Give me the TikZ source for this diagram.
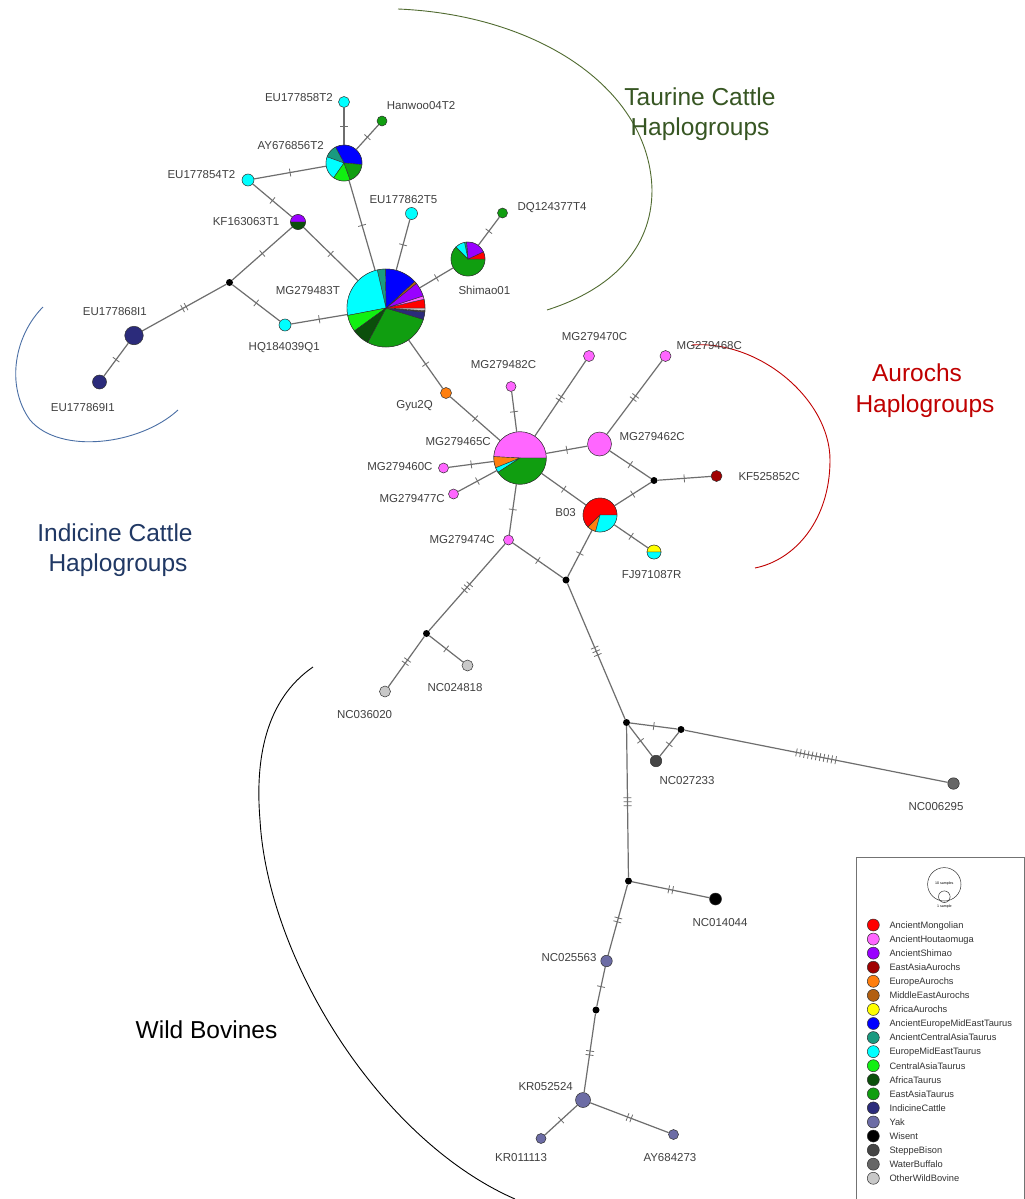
\documentclass[tikz,border=0pt]{standalone}
\usepackage{fontspec}
\setmainfont{Liberation Sans}
\usetikzlibrary{decorations.markings}
\definecolor{cMon}{HTML}{FF0000}
\definecolor{cHou}{HTML}{FF66FF}
\definecolor{cShi}{HTML}{9900FF}
\definecolor{cEAA}{HTML}{A00000}
\definecolor{cEuA}{HTML}{FF7F0F}
\definecolor{cMEA}{HTML}{B25F10}
\definecolor{cAfA}{HTML}{FFFF00}
\definecolor{cAEM}{HTML}{0000FF}
\definecolor{cACA}{HTML}{1A9A80}
\definecolor{cEMT}{HTML}{00FFFF}
\definecolor{cCAT}{HTML}{11F011}
\definecolor{cAfT}{HTML}{0B4F0B}
\definecolor{cEAT}{HTML}{109E10}
\definecolor{cInd}{HTML}{2B2B7B}
\definecolor{cYak}{HTML}{6C6CA5}
\definecolor{cWis}{HTML}{000000}
\definecolor{cSte}{HTML}{454545}
\definecolor{cBuf}{HTML}{666666}
\definecolor{cOWB}{HTML}{C8C8C8}
\definecolor{edgecol}{HTML}{6E6E6E}
\definecolor{outl}{HTML}{303030}
\definecolor{labcol}{HTML}{404040}
\definecolor{taurcol}{HTML}{375623}
\definecolor{aurcol}{HTML}{C00000}
\definecolor{indcol}{HTML}{203864}
\definecolor{indarc}{HTML}{4A6FA5}
\definecolor{taurarc}{HTML}{506B30}
\newcommand{\pwedge}[5]{\fill[#5,draw=outl,line width=0.4pt] (#1) -- ++(#3:#2) arc[start angle=#3,end angle=#4,radius=#2] -- cycle;}
\tikzset{
  hap/.style={circle,draw=outl,line width=0.5pt,inner sep=0pt,minimum size=#1},
  med/.style={circle,fill=black,inner sep=0pt,minimum size=7pt},
  edge/.style={draw=edgecol,line width=1.2pt},
  hk/.style={postaction={decorate,decoration={markings,
     mark=at position 0.5 with {
       \foreach \k in {1,...,#1}{
         \draw[edgecol,line width=0.8pt] ({(\k-(#1+1)/2)*4pt},-4pt) -- ({(\k-(#1+1)/2)*4pt},4pt);
       }}}}},
  lab/.style={font=\fontsize{11.5}{13}\selectfont,text=labcol,inner sep=0pt},
  big/.style={font=\fontsize{24.5}{30}\selectfont,inner sep=0pt,anchor=base},
  legdot/.style={circle,draw=outl,line width=0.5pt,inner sep=0pt,minimum size=12pt},
  legtxt/.style={font=\fontsize{9.3}{11}\selectfont,text=black!80,inner sep=0pt,anchor=base west},
}
\begin{document}
\begin{tikzpicture}[x=1pt,y=-1pt]
\useasboundingbox[fill=white] (0,0) rectangle (1025,1199);
% ---------- group arcs ----------
\draw[taurarc,line width=0.9pt] (398,9) .. controls (540,15) and (650,90) .. (652,190) .. controls (652,250) and (610,290) .. (547,310);
\draw[aurcol,line width=0.9pt] (692,345) .. controls (760,340) and (830,400) .. (830,460) .. controls (830,520) and (795,560) .. (755,568);
\draw[indarc,line width=0.9pt] (43,307) .. controls (15,335) and (5,385) .. (30,420) .. controls (60,455) and (140,445) .. (178,410);
\draw[black,line width=0.9pt] (313,667) .. controls (265,700) and (255,760) .. (260,820) .. controls (268,960) and (380,1140) .. (515,1199);
% ---------- nodes ----------
\node[hap=11pt,fill=cEMT] (n1) at (344,102) {};
\node[hap=10pt,fill=cEAT] (n2) at (382,121) {};
\node[hap=36pt] (n3) at (344,163) {};
\node[hap=12pt,fill=cEMT] (n4) at (248,180) {};
\node[hap=15pt] (n5) at (298,222) {};
\node[hap=12pt,fill=cEMT] (n6) at (411.5,213.5) {};
\node[hap=10pt,fill=cEAT] (n7) at (502.5,213) {};
\node[hap=34pt] (n8) at (468,259) {};
\node[hap=78pt] (n9) at (386,308) {};
\node[med] (m1) at (229.5,282.5) {};
\node[hap=12pt,fill=cEMT] (n10) at (285,325) {};
\node[hap=18.5pt,fill=cInd] (n11) at (134,335.5) {};
\node[hap=14pt,fill=cInd] (n12) at (99.5,382) {};
\node[hap=11pt,fill=cEuA] (n13) at (446,393) {};
\node[hap=52.5pt] (n14) at (520,458) {};
\node[hap=10pt,fill=cHou] (n15) at (511,386.5) {};
\node[hap=11pt,fill=cHou] (n16) at (589,356) {};
\node[hap=11pt,fill=cHou] (n17) at (665.5,356) {};
\node[hap=24pt,fill=cHou] (n18) at (599.5,444) {};
\node[hap=10pt,fill=cHou] (n19) at (443.5,468) {};
\node[hap=10pt,fill=cHou] (n20) at (453.5,494) {};
\node[med] (m2) at (654,480.5) {};
\node[hap=11pt,fill=cEAA] (n21) at (716.5,476) {};
\node[hap=34pt] (n22) at (600,515) {};
\node[hap=14pt] (n23) at (654,552) {};
\node[hap=10pt,fill=cHou] (n24) at (508.5,540) {};
\node[med] (m3) at (566,580) {};
\node[med] (m4) at (426.5,633.5) {};
\node[hap=11pt,fill=cOWB] (n25) at (385,691.5) {};
\node[hap=11pt,fill=cOWB] (n26) at (467.5,665.5) {};
\node[med] (m5) at (626.5,722.5) {};
\node[med] (m6) at (681,729.5) {};
\node[hap=11.5pt,fill=cSte] (n27) at (656,761) {};
\node[hap=11.5pt,fill=cBuf] (n28) at (953.5,783.5) {};
\node[med] (m7) at (628.5,881) {};
\node[hap=12pt,fill=cWis] (n29) at (715.5,899) {};
\node[hap=11.5pt,fill=cYak] (n30) at (606.5,961) {};
\node[med] (m8) at (596,1010) {};
\node[hap=15pt,fill=cYak] (n31) at (583,1100) {};
\node[hap=10pt,fill=cYak] (n32) at (541,1138.5) {};
\node[hap=10pt,fill=cYak] (n33) at (673.5,1134.5) {};
% ---------- edges ----------
\draw[edge,hk=1] (n1) -- (n3);
\draw[edge,hk=1] (n2) -- (n3);
\draw[edge,hk=1] (n4) -- (n3);
\draw[edge,hk=1] (n3) -- (n9);
\draw[edge,hk=1] (n4) -- (n5);
\draw[edge,hk=1] (n5) -- (n9);
\draw[edge,hk=1] (n5) -- (m1);
\draw[edge,hk=1] (m1) -- (n10);
\draw[edge,hk=1] (n10) -- (n9);
\draw[edge,hk=2] (m1) -- (n11);
\draw[edge,hk=1] (n11) -- (n12);
\draw[edge,hk=1] (n6) -- (n9);
\draw[edge,hk=1] (n9) -- (n8);
\draw[edge,hk=1] (n8) -- (n7);
\draw[edge,hk=1] (n9) -- (n13);
\draw[edge,hk=1] (n13) -- (n14);
\draw[edge,hk=1] (n14) -- (n15);
\draw[edge,hk=2] (n14) -- (n16);
\draw[edge,hk=1] (n14) -- (n18);
\draw[edge,hk=2] (n18) -- (n17);
\draw[edge,hk=1] (n18) -- (m2);
\draw[edge,hk=1] (m2) -- (n21);
\draw[edge,hk=1] (m2) -- (n22);
\draw[edge,hk=1] (n14) -- (n22);
\draw[edge,hk=1] (n14) -- (n19);
\draw[edge,hk=1] (n14) -- (n20);
\draw[edge,hk=1] (n14) -- (n24);
\draw[edge,hk=1] (n22) -- (n23);
\draw[edge,hk=1] (n22) -- (m3);
\draw[edge,hk=1] (n24) -- (m3);
\draw[edge,hk=3] (n24) -- (m4);
\draw[edge,hk=2] (m4) -- (n25);
\draw[edge,hk=1] (m4) -- (n26);
\draw[edge,hk=3] (m3) -- (m5);
\draw[edge,hk=1] (m5) -- (m6);
\draw[edge,hk=1] (m5) -- (n27);
\draw[edge,hk=1] (m6) -- (n27);
\draw[edge,hk=11] (m6) -- (n28);
\draw[edge,hk=3] (m5) -- (m7);
\draw[edge,hk=2] (m7) -- (n29);
\draw[edge,hk=2] (m7) -- (n30);
\draw[edge,hk=1] (n30) -- (m8);
\draw[edge,hk=2] (m8) -- (n31);
\draw[edge,hk=1] (n31) -- (n32);
\draw[edge,hk=2] (n31) -- (n33);
% ---------- pie wedges ----------
% AY676856T2
\pwedge{n3.center}{18pt}{-5}{118}{cAEM}
\pwedge{n3.center}{18pt}{118}{160}{cACA}
\pwedge{n3.center}{18pt}{160}{235}{cEMT}
\pwedge{n3.center}{18pt}{235}{290}{cCAT}
\pwedge{n3.center}{18pt}{290}{355}{cEAT}
% KF163063T1
\pwedge{n5.center}{7.5pt}{0}{180}{cShi}
\pwedge{n5.center}{7.5pt}{180}{360}{cAfT}
% Shimao01
\pwedge{n8.center}{17pt}{135}{360}{cEAT}
\pwedge{n8.center}{17pt}{0}{25}{cMon}
\pwedge{n8.center}{17pt}{25}{95}{cShi}
\pwedge{n8.center}{17pt}{95}{102}{cACA}
\pwedge{n8.center}{17pt}{102}{135}{cEMT}
% MG279483T
\pwedge{n9.center}{39pt}{242}{343}{cEAT}
\pwedge{n9.center}{39pt}{343}{354}{cInd}
\pwedge{n9.center}{39pt}{354}{356}{cSte}
\pwedge{n9.center}{39pt}{356}{360}{cOWB}
\pwedge{n9.center}{39pt}{0}{13}{cMon}
\pwedge{n9.center}{39pt}{13}{18}{cHou}
\pwedge{n9.center}{39pt}{18}{39}{cShi}
\pwedge{n9.center}{39pt}{39}{43}{cMEA}
\pwedge{n9.center}{39pt}{43}{91}{cAEM}
\pwedge{n9.center}{39pt}{91}{103}{cACA}
\pwedge{n9.center}{39pt}{103}{191}{cEMT}
\pwedge{n9.center}{39pt}{191}{216}{cCAT}
\pwedge{n9.center}{39pt}{216}{242}{cAfT}
% MG279465C
\pwedge{n14.center}{26.25pt}{0}{177}{cHou}
\pwedge{n14.center}{26.25pt}{177}{202}{cEuA}
\pwedge{n14.center}{26.25pt}{202}{213}{cEMT}
\pwedge{n14.center}{26.25pt}{213}{360}{cEAT}
% B03
\pwedge{n22.center}{17pt}{0}{225}{cMon}
\pwedge{n22.center}{17pt}{225}{255}{cEuA}
\pwedge{n22.center}{17pt}{255}{360}{cEMT}
% FJ971087R
\pwedge{n23.center}{7pt}{0}{180}{cAfA}
\pwedge{n23.center}{7pt}{180}{360}{cEMT}
% ---------- labels ----------
\node[lab,anchor=base east] (l1) at (333,101.4) {EU177858T2};
\node[lab,anchor=base west] (l2) at (386.7,109.8) {Hanwoo04T2};
\node[lab,anchor=base east] (l3) at (324,149.8) {AY676856T2};
\node[lab,anchor=base east] (l4) at (235.5,178.1) {EU177854T2};
\node[lab,anchor=base east] (l5) at (279.5,225.8) {KF163063T1};
\node[lab,anchor=base west] (l6) at (369.3,203.1) {EU177862T5};
\node[lab,anchor=base west] (l7) at (517.3,210.1) {DQ124377T4};
\node[lab,anchor=base west] (l8) at (458.3,294.1) {Shimao01};
\node[lab,anchor=base east] (l9) at (340,294.8) {MG279483T};
\node[lab,anchor=base west] (l10) at (248.5,350.6) {HQ184039Q1};
\node[lab,anchor=base west] (l11) at (82.7,315.1) {EU177868I1};
\node[lab,anchor=base east] (l12) at (115,411.1) {EU177869I1};
\node[lab,anchor=base east] (l13) at (433,408.1) {Gyu2Q};
\node[lab,anchor=base east] (l14) at (491,445.1) {MG279465C};
\node[lab,anchor=base west] (l15) at (470.7,368.4) {MG279482C};
\node[lab,anchor=base west] (l16) at (561.7,340.1) {MG279470C};
\node[lab,anchor=base west] (l17) at (676.5,349.1) {MG279468C};
\node[lab,anchor=base west] (l18) at (619.3,440.8) {MG279462C};
\node[lab,anchor=base east] (l19) at (432.7,470.8) {MG279460C};
\node[lab,anchor=base east] (l20) at (445,502.1) {MG279477C};
\node[lab,anchor=base west] (l21) at (738.3,480.1) {KF525852C};
\node[lab,anchor=base east] (l22) at (576,516.8) {B03};
\node[lab,anchor=base west] (l23) at (621.7,578.6) {FJ971087R};
\node[lab,anchor=base east] (l24) at (495,543.1) {MG279474C};
\node[lab,anchor=base east] (l25) at (392.3,718.1) {NC036020};
\node[lab,anchor=base west] (l26) at (427.3,691.8) {NC024818};
\node[lab,anchor=base west] (l27) at (659.3,784.1) {NC027233};
\node[lab,anchor=base west] (l28) at (908.3,810.8) {NC006295};
\node[lab,anchor=base west] (l29) at (692.3,926.1) {NC014044};
\node[lab,anchor=base east] (l30) at (596.7,961.8) {NC025563};
\node[lab,anchor=base west] (l31) at (518.3,1090.8) {KR052524};
\node[lab,anchor=base west] (l32) at (495,1161.4) {KR011113};
\node[lab,anchor=base west] (l33) at (643.3,1161.4) {AY684273};
% ---------- group titles ----------
\node[big,text=taurcol] (t1) at (700,105.6) {Taurine Cattle};
\node[big,text=taurcol] (t2) at (700,135.6) {Haplogroups};
\node[big,text=aurcol] (t3) at (917,381.6) {Aurochs};
\node[big,text=aurcol] (t4) at (925,412.6) {Haplogroups};
\node[big,text=indcol] (t5) at (115,541.6) {Indicine Cattle};
\node[big,text=indcol] (t6) at (118,571.6) {Haplogroups};
\node[big,text=black] (t7) at (206.5,1038.6) {Wild Bovines};
% ---------- legend ----------
\draw[black!55,line width=0.9pt] (856.5,857.5) rectangle (1024.5,1215);
\node[circle,draw=black!80,line width=0.5pt,inner sep=0pt,minimum size=33.4pt] (sz1) at (944.3,884.3) {};
\node[circle,draw=black!80,line width=0.5pt,inner sep=0pt,minimum size=11.6pt] (sz2) at (944.3,896.7) {};
\node[font=\fontsize{3.6}{4}\selectfont,inner sep=0pt] (sz3) at (944.3,883.5) {10 samples};
\node[font=\fontsize{3.6}{4}\selectfont,inner sep=0pt] (sz4) at (944.3,906.3) {1 sample};
\foreach \nm/\cl [count=\i from 0] in {AncientMongolian/cMon,AncientHoutaomuga/cHou,AncientShimao/cShi,EastAsiaAurochs/cEAA,EuropeAurochs/cEuA,MiddleEastAurochs/cMEA,AfricaAurochs/cAfA,AncientEuropeMidEastTaurus/cAEM,AncientCentralAsiaTaurus/cACA,EuropeMidEastTaurus/cEMT,CentralAsiaTaurus/cCAT,AfricaTaurus/cAfT,EastAsiaTaurus/cEAT,IndicineCattle/cInd,Yak/cYak,Wisent/cWis,SteppeBison/cSte,WaterBuffalo/cBuf,OtherWildBovine/cOWB}{
  \node[legdot,fill=\cl] (ld\i) at (873.3,{925+14.07*\i}) {};
  \node[legtxt] (lt\i) at (889.3,{928.3+14.07*\i}) {\nm};
}
\end{tikzpicture}
\end{document}
